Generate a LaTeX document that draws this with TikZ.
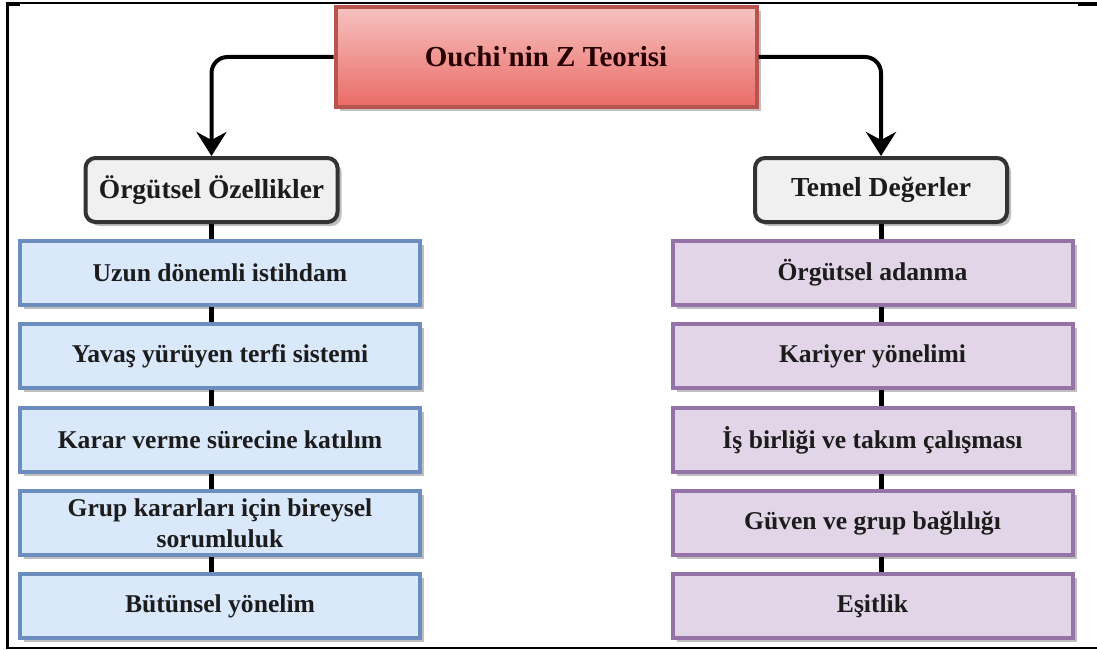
\documentclass[tikz,border=0pt]{standalone}
\usepackage{fontspec}
\setmainfont{Liberation Serif}
\usetikzlibrary{arrows.meta,shadows}

\definecolor{bluefill}{HTML}{DAE8FC}
\definecolor{blueline}{HTML}{6C8EBF}
\definecolor{purplefill}{HTML}{E1D5E7}
\definecolor{purpleline}{HTML}{9673A6}
\definecolor{grayfill}{HTML}{F0F0F0}
\definecolor{grayline}{HTML}{333333}
\definecolor{redtop}{HTML}{F6C2C0}
\definecolor{redbottom}{HTML}{EA6B66}
\definecolor{redline}{HTML}{B85450}
\definecolor{textdark}{HTML}{1C1C1C}

\begin{document}
\begin{tikzpicture}[x=1pt,y=-1pt,
  box/.style={draw, line width=4pt, inner sep=0pt, align=center,
    font=\fontsize{25.6}{31}\selectfont\bfseries, text=textdark,
    drop shadow={shadow xshift=4pt, shadow yshift=-4pt, fill=black, opacity=0.25}},
  itembox/.style={box, minimum width=400pt, minimum height=64pt},
  bluebox/.style={itembox, fill=bluefill, draw=blueline},
  purplebox/.style={itembox, fill=purplefill, draw=purpleline},
  headbox/.style={box, fill=grayfill, draw=grayline, rounded corners=10pt,
    minimum width=252pt, minimum height=64pt,
    font=\fontsize{27.5}{30}\selectfont\bfseries},
  titlebox/.style={box, draw=redline, top color=redtop, bottom color=redbottom,
    minimum width=421pt, minimum height=100pt,
    font=\fontsize{29}{32}\selectfont\bfseries, text=black!85!red},
  conn/.style={line width=4pt, rounded corners=16pt,
    -{Stealth[length=24pt, width=30pt, inset=8pt]}},
  link/.style={line width=5pt},
  frameline/.style={line width=2pt}
]
\useasboundingbox (0,0) rectangle (1097,650);

% outer frame (open on the right)
\draw[frameline] (1097,3) -- (7,3) -- (7,648) -- (1097,648);
\draw[line width=3pt] (7,3) -- (7,648);
\draw[line width=4pt] (6,4) -- (20,4);
\draw[line width=4pt] (1078,4) -- (1097,4);

% title
\node[titlebox] (top) at (546,57) {Ouchi\textquotesingle nin Z Teorisi};

% column heads
\node[headbox] (g1) at (211.5,190) {Örgütsel Özellikler};
\node[headbox] (g2) at (881,190) {Temel Değerler};

% left column
\node[bluebox] (b1) at (220,273) {Uzun dönemli istihdam};
\node[bluebox] (b2) at (220,356) {Yavaş yürüyen terfi sistemi};
\node[bluebox] (b3) at (220,440) {Karar verme sürecine katılım};
\node[bluebox] (b4) at (220,523) {Grup kararları için bireysel\\sorumluluk};
\node[bluebox] (b5) at (220,606) {Bütünsel yönelim};

% right column
\node[purplebox] (p1) at (872.5,273) {Örgütsel adanma};
\node[purplebox] (p2) at (872.5,356) {Kariyer yönelimi};
\node[purplebox] (p3) at (872.5,440) {İş birliği ve takım çalışması};
\node[purplebox] (p4) at (872.5,523) {Güven ve grup bağlılığı};
\node[purplebox] (p5) at (872.5,606) {Eşitlik};

% arrows from the title to the heads
\draw[conn] (top.west) -| (g1.north);
\draw[conn] (top.east) -| (g2.north);

% vertical links through each column
\draw[link] (g1.south) -- (g1.south |- b1.north);
\draw[link] (g1.south |- b1.south) -- (g1.south |- b2.north);
\draw[link] (g1.south |- b2.south) -- (g1.south |- b3.north);
\draw[link] (g1.south |- b3.south) -- (g1.south |- b4.north);
\draw[link] (g1.south |- b4.south) -- (g1.south |- b5.north);

\draw[link] (g2.south) -- (g2.south |- p1.north);
\draw[link] (g2.south |- p1.south) -- (g2.south |- p2.north);
\draw[link] (g2.south |- p2.south) -- (g2.south |- p3.north);
\draw[link] (g2.south |- p3.south) -- (g2.south |- p4.north);
\draw[link] (g2.south |- p4.south) -- (g2.south |- p5.north);
\end{tikzpicture}
\end{document}
